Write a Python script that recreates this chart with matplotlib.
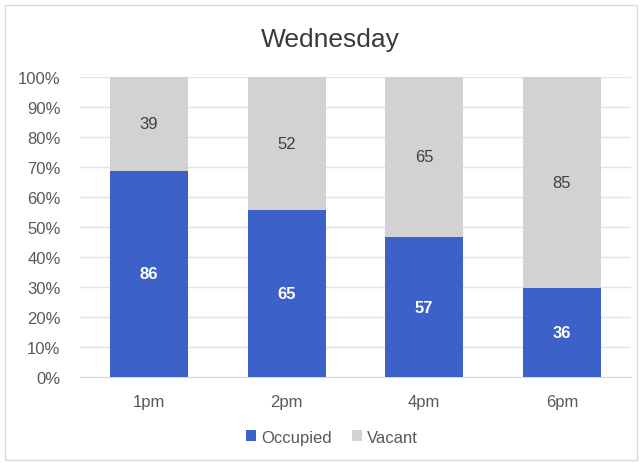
import matplotlib
matplotlib.use("Agg")
import matplotlib.pyplot as plt
from matplotlib.patches import Rectangle
import numpy as np

categories = ["1pm", "2pm", "4pm", "6pm"]
occupied = [86, 65, 57, 36]
vacant = [39, 52, 65, 85]
series_names = ["Occupied", "Vacant"]
title = "Wednesday"

plt.rcParams['font.family'] = ['Liberation Sans', 'DejaVu Sans']

blue = "#3C61C9"
gray = "#D2D2D2"

fig = plt.figure(figsize=(6.42, 4.64), dpi=100)
fig.patch.set_facecolor("white")
fig.add_artist(Rectangle((0.008, 0.006), 0.984, 0.98, transform=fig.transFigure,
                         fill=False, edgecolor="#D9D9D9", linewidth=1.0))

ax = fig.add_axes([0.1246, 0.185, 0.858, 0.647])
x = np.arange(len(categories))
occ = np.array(occupied, dtype=float)
vac = np.array(vacant, dtype=float)
tot = occ + vac
occ_p = occ / tot * 100
vac_p = vac / tot * 100

w = 0.567
ax.bar(x, occ_p, width=w, color=blue, label=series_names[0], zorder=3)
ax.bar(x, vac_p, width=w, bottom=occ_p, color=gray, label=series_names[1], zorder=3)

for i in range(len(x)):
    ax.text(x[i], occ_p[i] / 2, str(occupied[i]), ha="center", va="center",
            color="white", fontsize=12, fontweight="bold", zorder=4)
    ax.text(x[i], occ_p[i] + vac_p[i] / 2, str(vacant[i]), ha="center", va="center",
            color="#404040", fontsize=12, zorder=4)

ax.set_xlim(-0.5, len(x) - 0.5)
ax.set_ylim(0, 100)
ax.set_yticks(np.arange(0, 101, 10))
ax.set_yticklabels([f"{v}%" for v in range(0, 101, 10)])
ax.set_xticks(x)
ax.set_xticklabels(categories)
ax.tick_params(axis="both", length=0, labelsize=12, colors="#595959")
ax.tick_params(axis="x", pad=12)
ax.tick_params(axis="y", pad=14)
ax.yaxis.grid(True, color="#E3E3E3", linewidth=1.0, zorder=0)
for s in ["top", "right", "left"]:
    ax.spines[s].set_visible(False)
ax.spines["bottom"].set_color("#D9D9D9")

fig.text(0.515, 0.914, title, ha="center", va="center", fontsize=19, color="#3A3A3A")

leg = fig.legend(loc="center", bbox_to_anchor=(0.517, 0.056), ncol=2, frameon=False,
                 fontsize=12, handlelength=0.6, handleheight=0.6, handletextpad=0.3,
                 columnspacing=1.2, labelcolor="#595959")
plt.savefig("out.png", dpi=100)
